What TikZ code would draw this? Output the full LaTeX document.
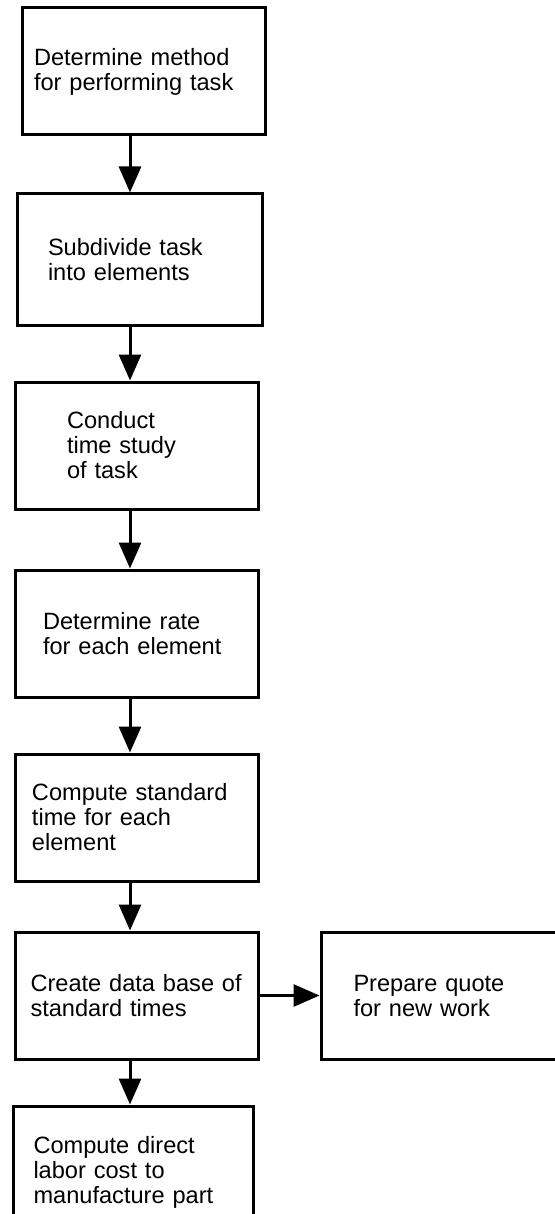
\documentclass[tikz,border=0pt]{standalone}
\usepackage{fontspec}
\setmainfont{Liberation Sans}
\usepackage{tikz}
\usetikzlibrary{positioning,arrows.meta}
\definecolor{FlowInk}{HTML}{000000}
\tikzset{
  stepbox/.style={draw=FlowInk,line width=1.5pt,align=left,inner sep=0pt,minimum width=121.5pt,minimum height=63.5pt,font=\fontsize{11.8}{12.5}\selectfont},
  flowarrow/.style={-{Triangle[length=13pt,width=11pt]},draw=FlowInk,line width=1.5pt}
}

\begin{document}
\begin{tikzpicture}
  \useasboundingbox (0,0) rectangle (277pt,-607pt);
  \node[stepbox,text width=109.5pt] (method) at (71.75pt,-35.75pt) {Determine method\\for performing task};
  \node[stepbox,text width=91.5pt,minimum width=122.5pt,minimum height=65.5pt,below=28pt of method,xshift=-2pt] (subdivide) {Subdivide task\\into elements};
  \node[stepbox,text width=69.5pt,below=27pt of subdivide,xshift=-1.5pt] (study) {Conduct\\time study\\of task};
  \node[stepbox,text width=93.5pt,below=29pt of study] (rate) {Determine rate\\for each element};
  \node[stepbox,text width=104.5pt,below=27pt of rate] (stdtime) {Compute standard\\time for each\\element};
  \node[stepbox,text width=106pt,below=24pt of stdtime] (database) {Create data base of\\standard times};
  \node[stepbox,text width=85pt,minimum width=117.5pt,right=30pt of database] (quote) {Prepare quote\\for new work};
  \node[stepbox,text width=100pt,minimum width=120pt,minimum height=66pt,below=22pt of database,xshift=-1.5pt] (labor) {Compute direct\\labor cost to\\manufacture part};
  \coordinate (spine) at (65pt,0);
  \draw[flowarrow] (method.south -| spine) -- (subdivide.north -| spine);
  \draw[flowarrow] (subdivide.south -| spine) -- (study.north -| spine);
  \draw[flowarrow] (study.south -| spine) -- (rate.north -| spine);
  \draw[flowarrow] (rate.south -| spine) -- (stdtime.north -| spine);
  \draw[flowarrow] (stdtime.south -| spine) -- (database.north -| spine);
  \draw[flowarrow] (database.east) -- (quote.west);
  \draw[flowarrow] (database.south -| spine) -- (labor.north -| spine);
\end{tikzpicture}
\end{document}
